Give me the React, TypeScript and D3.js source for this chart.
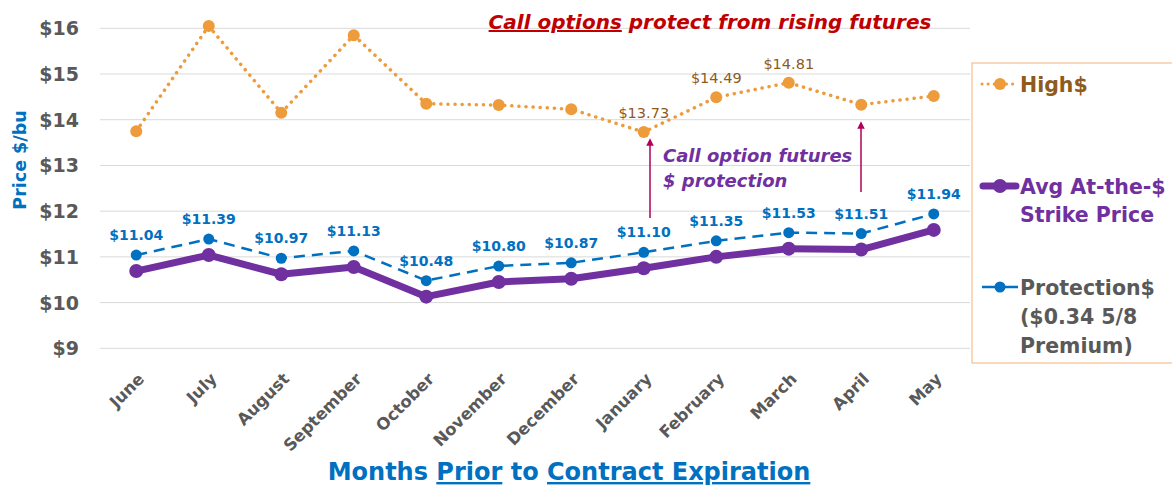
import React, { useEffect, useRef } from 'react';
import * as d3 from 'd3';

const months = ['June', 'July', 'August', 'September', 'October', 'November', 'December', 'January', 'February', 'March', 'April', 'May'];
const highPrice = [13.75, 16.05, 14.15, 15.85, 14.35, 14.32, 14.23, 13.73, 14.49, 14.81, 14.33, 14.52];
const avgStrike = [10.69, 11.04, 10.62, 10.78, 10.13, 10.45, 10.52, 10.75, 11.0, 11.18, 11.16, 11.59];
const protection = [11.04, 11.39, 10.97, 11.13, 10.48, 10.8, 10.87, 11.1, 11.35, 11.53, 11.51, 11.94];
const highLabelMonths = ['January', 'February', 'March'];
const yTicks = [9, 10, 11, 12, 13, 14, 15, 16];

const FONT = "'Century Gothic', 'DejaVu Sans', sans-serif";
const ORANGE = '#ED9B3B';
const BLUE = '#0070C0';
const PURPLE = '#7030A0';
const GRAY = '#595959';
const BROWN = '#8F5A1E';

const App = () => {
  const svgRef = useRef<SVGSVGElement>(null);

  useEffect(() => {
    const svg = d3.select(svgRef.current);
    svg.selectAll('*').remove();

    const x = d3.scaleBand().domain(months).range([100, 970]);
    const cx = (m: string) => (x(m) as number) + x.bandwidth() / 2;
    const y = d3.scaleLinear().domain([9, 16]).range([348.3, 28.3]);

    // grid
    svg.append('g')
      .selectAll('line')
      .data(yTicks)
      .enter()
      .append('line')
      .attr('x1', 100)
      .attr('x2', 970)
      .attr('y1', d => y(d))
      .attr('y2', d => y(d))
      .attr('stroke', '#D9D9D9')
      .attr('stroke-width', 1);

    // y tick labels
    svg.append('g')
      .selectAll('text')
      .data(yTicks)
      .enter()
      .append('text')
      .attr('x', 79)
      .attr('y', d => y(d) + 7)
      .attr('text-anchor', 'end')
      .attr('font-family', FONT)
      .attr('font-weight', 'bold')
      .attr('font-size', 19)
      .attr('fill', GRAY)
      .text(d => `$${d}`);

    // y title
    svg.append('text')
      .attr('transform', 'translate(26,160) rotate(-90)')
      .attr('text-anchor', 'middle')
      .attr('font-family', FONT)
      .attr('font-weight', 'bold')
      .attr('font-size', 17.5)
      .attr('fill', BLUE)
      .text('Price $/bu');

    // x tick labels
    svg.append('g')
      .selectAll('text')
      .data(months)
      .enter()
      .append('text')
      .attr('transform', d => `translate(${cx(d) + 9},380) rotate(-45)`)
      .attr('text-anchor', 'end')
      .attr('font-family', FONT)
      .attr('font-weight', 'bold')
      .attr('font-size', 16.5)
      .attr('fill', GRAY)
      .text(d => d);

    // x title
    const xt = svg.append('text')
      .attr('x', 569)
      .attr('y', 480)
      .attr('text-anchor', 'middle')
      .attr('font-family', FONT)
      .attr('font-weight', 'bold')
      .attr('font-size', 24)
      .attr('fill', BLUE);
    xt.append('tspan').text('Months ');
    xt.append('tspan').attr('text-decoration', 'underline').text('Prior');
    xt.append('tspan').text(' to ');
    xt.append('tspan').attr('text-decoration', 'underline').text('Contract Expiration');

    // chart title
    const tt = svg.append('text')
      .attr('x', 710)
      .attr('y', 29)
      .attr('text-anchor', 'middle')
      .attr('font-family', FONT)
      .attr('font-weight', 'bold')
      .attr('font-style', 'italic')
      .attr('font-size', 20)
      .attr('fill', '#C00000');
    tt.append('tspan').attr('text-decoration', 'underline').text('Call options');
    tt.append('tspan').text(' protect from rising futures');

    const line = (vals: number[]) =>
      d3.line<string>().x(d => cx(d)).y((d, i) => y(vals[i]))(months);

    // High$
    svg.append('path')
      .attr('d', line(highPrice))
      .attr('fill', 'none')
      .attr('stroke', ORANGE)
      .attr('stroke-width', 3.5)
      .attr('stroke-linecap', 'round')
      .attr('stroke-dasharray', '0.1 7');
    svg.append('g')
      .selectAll('circle')
      .data(months)
      .enter()
      .append('circle')
      .attr('cx', d => cx(d))
      .attr('cy', (d, i) => y(highPrice[i]))
      .attr('r', 6)
      .attr('fill', ORANGE);
    svg.append('g')
      .selectAll('text')
      .data(months.filter(m => highLabelMonths.includes(m)))
      .enter()
      .append('text')
      .attr('x', d => cx(d))
      .attr('y', d => y(highPrice[months.indexOf(d)]) - 14)
      .attr('text-anchor', 'middle')
      .attr('font-family', FONT)
      .attr('font-size', 14.5)
      .attr('fill', BROWN)
      .text(d => `$${highPrice[months.indexOf(d)].toFixed(2)}`);

    // Avg strike
    svg.append('path')
      .attr('d', line(avgStrike))
      .attr('fill', 'none')
      .attr('stroke', PURPLE)
      .attr('stroke-width', 7)
      .attr('stroke-linejoin', 'round');
    svg.append('g')
      .selectAll('circle')
      .data(months)
      .enter()
      .append('circle')
      .attr('cx', d => cx(d))
      .attr('cy', (d, i) => y(avgStrike[i]))
      .attr('r', 7)
      .attr('fill', PURPLE);

    // Protection
    svg.append('path')
      .attr('d', line(protection))
      .attr('fill', 'none')
      .attr('stroke', BLUE)
      .attr('stroke-width', 2.5)
      .attr('stroke-dasharray', '11 7');
    svg.append('g')
      .selectAll('circle')
      .data(months)
      .enter()
      .append('circle')
      .attr('cx', d => cx(d))
      .attr('cy', (d, i) => y(protection[i]))
      .attr('r', 5.5)
      .attr('fill', BLUE);
    svg.append('g')
      .selectAll('text')
      .data(months)
      .enter()
      .append('text')
      .attr('x', d => cx(d))
      .attr('y', (d, i) => y(protection[i]) - 15)
      .attr('text-anchor', 'middle')
      .attr('font-family', FONT)
      .attr('font-weight', 'bold')
      .attr('font-size', 14)
      .attr('fill', BLUE)
      .text((d, i) => `$${protection[i].toFixed(2)}`);

    // arrows
    const defs = svg.append('defs');
    defs.append('marker')
      .attr('id', 'arrowhead')
      .attr('viewBox', '0 0 10 10')
      .attr('refX', 5)
      .attr('refY', 5)
      .attr('markerWidth', 5)
      .attr('markerHeight', 5)
      .attr('orient', 'auto')
      .append('path')
      .attr('d', 'M0,0 L10,5 L0,10 z')
      .attr('fill', '#B0005A');
    const arrows = [
      { x: 650, y1: 218, y2: 142 },
      { x: 861, y1: 192, y2: 125 },
    ];
    svg.append('g')
      .selectAll('line')
      .data(arrows)
      .enter()
      .append('line')
      .attr('x1', d => d.x)
      .attr('x2', d => d.x)
      .attr('y1', d => d.y1)
      .attr('y2', d => d.y2)
      .attr('stroke', '#B0005A')
      .attr('stroke-width', 1.5)
      .attr('marker-end', 'url(#arrowhead)');

    const ann = svg.append('text')
      .attr('font-family', FONT)
      .attr('font-weight', 'bold')
      .attr('font-style', 'italic')
      .attr('font-size', 18)
      .attr('fill', PURPLE);
    ann.append('tspan').attr('x', 663).attr('y', 162).text('Call option futures');
    ann.append('tspan').attr('x', 663).attr('y', 187).text('$ protection');

    // legend
    svg.append('rect')
      .attr('x', 972)
      .attr('y', 63)
      .attr('width', 210)
      .attr('height', 300)
      .attr('fill', 'white')
      .attr('stroke', '#F4C090')
      .attr('stroke-width', 1.2);

    const lg = svg.append('g');
    const LFS = 20.5;
    // High
    lg.append('line').attr('x1', 982).attr('x2', 1018).attr('y1', 84).attr('y2', 84)
      .attr('stroke', ORANGE).attr('stroke-width', 3).attr('stroke-linecap', 'round').attr('stroke-dasharray', '0.1 6');
    lg.append('circle').attr('cx', 1000).attr('cy', 84).attr('r', 6).attr('fill', ORANGE);
    lg.append('text').attr('x', 1020).attr('y', 92).attr('font-family', FONT).attr('font-weight', 'bold')
      .attr('font-size', LFS).attr('fill', BROWN).text('High$');
    // Avg
    lg.append('line').attr('x1', 983).attr('x2', 1016).attr('y1', 186).attr('y2', 186)
      .attr('stroke', PURPLE).attr('stroke-width', 7).attr('stroke-linecap', 'round');
    lg.append('circle').attr('cx', 1000).attr('cy', 186).attr('r', 7).attr('fill', PURPLE);
    const at = lg.append('text').attr('font-family', FONT).attr('font-weight', 'bold')
      .attr('font-size', LFS).attr('fill', PURPLE);
    at.append('tspan').attr('x', 1020).attr('y', 194).text('Avg At-the-$');
    at.append('tspan').attr('x', 1020).attr('y', 222).text('Strike Price');
    // Protection
    lg.append('line').attr('x1', 982).attr('x2', 1018).attr('y1', 287).attr('y2', 287)
      .attr('stroke', BLUE).attr('stroke-width', 2.5);
    lg.append('circle').attr('cx', 1000).attr('cy', 287).attr('r', 5.5).attr('fill', BLUE);
    const pt = lg.append('text').attr('font-family', FONT).attr('font-weight', 'bold')
      .attr('font-size', LFS).attr('fill', GRAY);
    pt.append('tspan').attr('x', 1020).attr('y', 295).text('Protection$');
    pt.append('tspan').attr('x', 1020).attr('y', 324).text('($0.34 5/8');
    pt.append('tspan').attr('x', 1020).attr('y', 353).text('Premium)');
  }, []);

  return (
    <svg
      ref={svgRef}
      width={1172}
      height={489}
      style={{ position: 'absolute', left: 0, top: 0, background: 'white' }}
    />
  );
};

export default App;
